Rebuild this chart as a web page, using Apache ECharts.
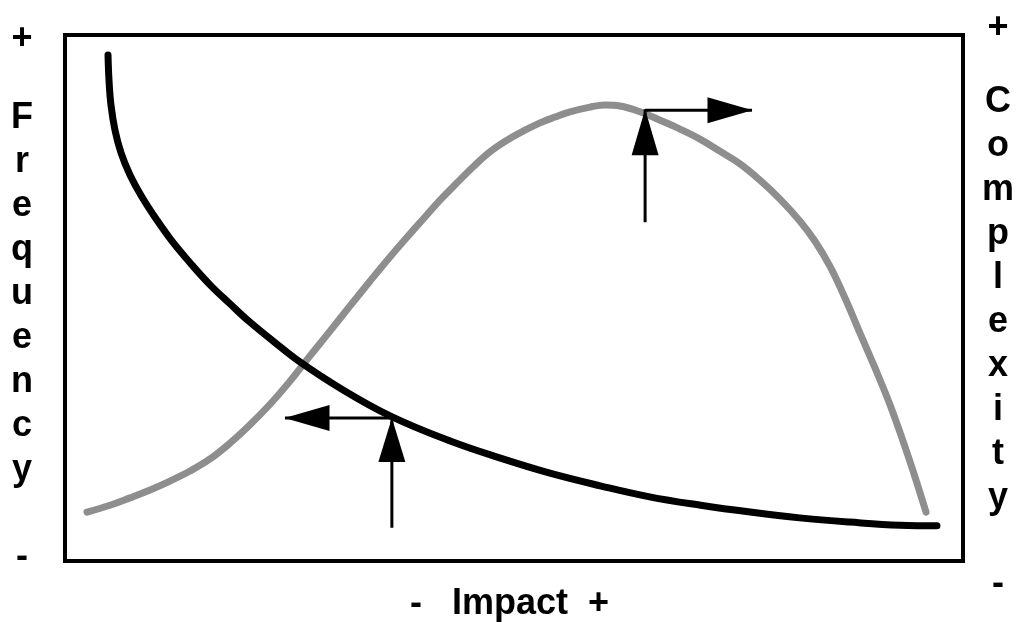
<!DOCTYPE html>
<html>
<head>
<meta charset="utf-8">
<script src="https://cdn.jsdelivr.net/npm/echarts@6/dist/echarts.min.js"></script>
<style>html,body{margin:0;padding:0;background:#fff;}#c{width:1023px;height:622px;}</style>
</head>
<body>
<div id="c"></div>
<script>
// Frequency curve (black): [impact, value] in 0..100 space
const frequencyCurve = [[4.79,96.2],[4.9,91.4],[5.12,86.7],[5.57,81.9],[6.24,77.6],[7.24,73.4],[8.57,69.2],[10.24,64.8],[11.92,60.8],[13.92,56.7],[16.15,52.5],[18.37,48.9],[20.6,45.4],[23.4,41.5],[26.2,37.8],[30.6,32.9],[36.2,27.6],[42.9,22.8],[48.4,19.6],[54.0,16.7],[59.6,14.3],[65.1,12.2],[70.8,10.6],[76.3,9.3],[81.8,8.2],[87.4,7.4],[93.0,6.8],[97.1,6.7]];
// Complexity curve (gray)
const complexityCurve = [[2.45,9.3],[5.01,10.6],[7.24,12.0],[9.47,13.5],[11.69,15.2],[13.92,17.1],[16.15,19.4],[18.37,22.4],[20.6,25.9],[22.83,29.8],[25.06,34.2],[27.28,39.0],[29.51,43.7],[31.74,48.5],[33.96,53.2],[36.19,57.8],[38.42,62.2],[40.09,65.4],[41.76,68.6],[43.65,71.9],[45.43,74.9],[47.33,77.8],[49.22,80.0],[51.22,81.9],[52.9,83.3],[54.57,84.4],[56.24,85.4],[58.46,86.3],[60.13,86.7],[61.8,86.5],[64.03,85.4],[66.26,83.8],[68.49,82.1],[70.71,80.2],[72.94,77.9],[75.17,75.5],[77.39,72.4],[79.62,68.8],[81.85,64.6],[83.52,60.8],[85.19,56.0],[86.86,50.0],[88.53,43.3],[90.2,36.7],[91.87,29.7],[93.54,21.7],[94.65,16.0],[95.88,9.3]];
// Arrows: base -> corner -> end
const arrowFreqUp = [[36.4,6.3],[36.4,27.2]];
const arrowFreqLeft = [[36.4,27.2],[24.5,27.2]];
const arrowCompUp = [[64.6,64.4],[64.6,85.9]];
const arrowCompRight = [[64.6,85.7],[76.5,85.7]];
// Labels
const leftTop = '+', leftBottom = '-', leftWord = 'Frequency';
const rightTop = '+', rightBottom = '-', rightWord = 'Complexity';
const bottomLabel = '-   Impact  +';

const chart = echarts.init(document.getElementById('c'), null, {renderer:'canvas'});
const font = 'bold 36px "Liberation Sans", Arial, sans-serif';
function shaft(d){return {type:'line',data:d,symbol:'none',silent:true,lineStyle:{color:'#000',width:3,opacity:1},z:5};}
function head(pt,path,size,offset){return {type:'scatter',data:[pt],symbol:path,symbolSize:size,symbolOffset:offset,symbolKeepAspect:false,itemStyle:{color:'#000',opacity:1},emphasis:{disabled:true},silent:true,z:6};}
const up='path://M5,0 L10,10 L0,10 Z', left='path://M0,5 L10,0 L10,10 Z', right='path://M10,5 L0,0 L0,10 Z';
function col(word){return word.split('').join('\n');}
function txt(x,y,text,va,extra){return {type:'text',x:x,y:y,style:Object.assign({text:text,font:font,align:'center',verticalAlign:va,fill:'#000'},extra||{})};}
chart.setOption({
  animation:false,
  grid:{left:65,right:60,top:35,bottom:61,show:true,borderColor:'#000',borderWidth:4,backgroundColor:'#fff'},
  xAxis:{type:'value',min:0,max:100,show:false},
  yAxis:{type:'value',min:0,max:100,show:false},
  series:[
    {type:'line',data:complexityCurve,smooth:0.4,symbol:'none',silent:true,lineStyle:{color:'#8e8e8e',width:7,cap:'round',join:'round'},z:3},
    {type:'line',data:frequencyCurve,smooth:0.4,symbol:'none',silent:true,lineStyle:{color:'#000',width:7,cap:'round',join:'round'},z:4},
    shaft(arrowFreqUp),shaft(arrowFreqLeft),shaft(arrowCompUp),shaft(arrowCompRight),
    head(arrowFreqUp[1],up,[27,44],[0,22]),
    head(arrowFreqLeft[1],left,[45,26],[22,0]),
    head(arrowCompUp[1],up,[27,46],[0,23]),
    head(arrowCompRight[1],right,[45,26],[-22,0])
  ],
  graphic:[
    txt(22,39,leftTop,'middle'),
    txt(22,96,col(leftWord),'top',{lineHeight:44}),
    txt(22,557,leftBottom,'middle'),
    txt(998,28,rightTop,'middle'),
    txt(998,80,col(rightWord),'top',{lineHeight:44}),
    txt(998,584,rightBottom,'middle'),
    {type:'text',x:410,y:604,style:{text:bottomLabel,font:font,align:'left',verticalAlign:'middle',fill:'#000'}}
  ]
});
</script>
</body>
</html>
